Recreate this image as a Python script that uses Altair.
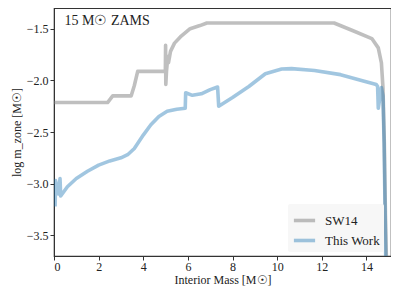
import altair as alt
import pandas as pd

# SW14 series
sw_x = [0.0, 2.4, 2.63, 3.46, 3.6, 3.75, 4.99, 5.0, 5.01, 5.04, 5.1, 5.13, 5.22, 5.4, 5.66, 6.1, 6.54, 6.85,
        12.55, 13.4, 14.24, 14.53, 14.67, 14.74, 14.8, 14.85, 14.9]
sw_y = [-2.215, -2.215, -2.15, -2.15, -2.05, -1.913, -1.913, -1.66, -2.04, -1.913, -1.77, -1.83, -1.72, -1.64, -1.58,
        -1.5, -1.47, -1.445, -1.445, -1.52, -1.596, -1.686, -1.83, -2.07, -2.6, -3.3, -3.8]

# This Work series
tw_x = [0.05, 0.07, 0.2, 0.27, 0.3, 0.6, 1.0, 1.5, 2.0, 2.5, 3.0, 3.3, 3.6, 4.0, 4.34, 4.7, 5.07, 5.5, 5.88,
        5.9, 6.2, 6.6, 7.0, 7.33, 7.38, 8.0, 8.73, 9.47, 10.2, 10.64, 11.67, 12.84, 13.86, 14.44, 14.5,
        14.53, 14.67, 14.74, 14.79, 14.83, 14.87]
tw_y = [-3.22, -2.97, -3.1, -2.95, -3.12, -3.03, -2.95, -2.88, -2.82, -2.78, -2.75, -2.72, -2.66, -2.53, -2.43,
        -2.35, -2.3, -2.28, -2.27, -2.12, -2.145, -2.13, -2.09, -2.065, -2.25, -2.166, -2.06, -1.936, -1.89,
        -1.887, -1.905, -1.945, -2.006, -2.04, -2.06, -2.27, -2.07, -2.15, -2.6, -3.2, -3.8]

series_names = ["SW14", "This Work"]

rows = []
for i, (x, y) in enumerate(zip(sw_x, sw_y)):
    rows.append({"mass": x, "logm": y, "series": series_names[0], "idx": i})
for i, (x, y) in enumerate(zip(tw_x, tw_y)):
    rows.append({"mass": x, "logm": y, "series": series_names[1], "idx": i})
df = pd.DataFrame(rows)

FONT = "Liberation Serif"

lines = alt.Chart(df).mark_line(strokeWidth=3.6, clip=True, strokeJoin="round", strokeCap="butt").encode(
    x=alt.X("mass:Q", scale=alt.Scale(domain=[0, 15.1], nice=False, zero=False),
            axis=alt.Axis(values=[0, 2, 4, 6, 8, 10, 12, 14], format="d", title="Interior Mass [M☉]")),
    y=alt.Y("logm:Q", scale=alt.Scale(domain=[-3.7, -1.3], nice=False, zero=False),
            axis=alt.Axis(values=[-3.5, -3.0, -2.5, -2.0, -1.5], format=".1f", title="log m_zone [M☉]")),
    color=alt.Color("series:N",
                    scale=alt.Scale(domain=series_names,
                                    range=["rgba(128,128,128,0.5)", "rgba(31,119,180,0.42)"]),
                    legend=alt.Legend(title=None, orient="none", legendX=234, legendY=196,
                                      symbolType="stroke", symbolStrokeWidth=3.6, symbolSize=450,
                                      fillColor="#f7f7f7", padding=4, rowPadding=0,
                                      labelFont=FONT, labelFontSize=13, labelColor="#222",
                                      labelOffset=8, cornerRadius=2)),
    detail="series:N",
    order="idx:Q",
)

label_df = pd.DataFrame({"mass": [0.47], "logm": [-1.43], "text": ["15 M☉ ZAMS"]})
label = alt.Chart(label_df).mark_text(align="left", baseline="middle", font=FONT, fontSize=14, color="#222").encode(
    x="mass:Q", y="logm:Q", text="text:N"
)

chart = alt.layer(lines, label).properties(
    width=337, height=248,
    autosize=alt.AutoSizeParams(type="none"),
    padding={"left": 46, "top": 0, "right": 0, "bottom": 35},
).configure_view(
    stroke="#333", strokeWidth=1.2
).configure_axis(
    grid=False, labelFont=FONT, titleFont=FONT, labelFontSize=12, titleFontSize=12,
    labelColor="#222", titleColor="#222", titleFontWeight="normal",
    domainColor="#333", tickColor="#333", tickSize=4,
).configure_axisX(titlePadding=2, labelPadding=1).configure_axisY(titlePadding=3, labelPadding=2)

chart.save("out.html", embed_options={"renderer": "svg", "actions": False})
